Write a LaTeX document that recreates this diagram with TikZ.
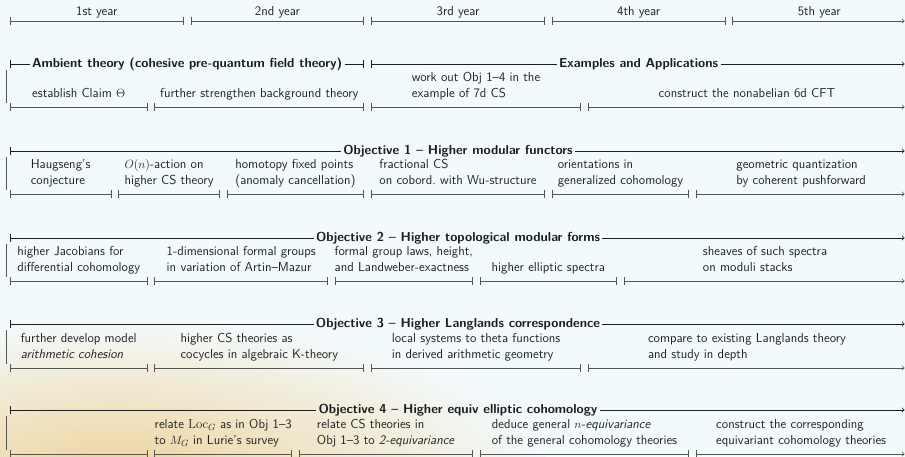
\documentclass[tikz,border=0pt]{standalone}
\usepackage{amsmath,amssymb}
\usepackage{fontspec}
\usepackage{tikz}
\usetikzlibrary{positioning}

\definecolor{bgblue}{RGB}{243,250,252}
\definecolor{sunset}{RGB}{238,212,158}
\definecolor{linegray}{RGB}{85,85,85}
\definecolor{headline}{RGB}{30,30,30}
\definecolor{textgray}{RGB}{35,35,35}

\begin{document}
\begin{tikzpicture}[x=36.12pt, y=-1pt, line width=0.8pt,
  font=\sffamily\fontsize{13}{16}\selectfont,
  seg/.style={|-|, draw=linegray, shorten <=3.5pt, shorten >=3.5pt},
  lastseg/.style={|->, draw=linegray, shorten <=3.5pt, shorten >=5pt},
  task/.style={anchor=south, align=left, inner sep=0pt, text depth=3pt, text=textgray},
  year/.style={inner sep=0pt, text=textgray},
  head/.style={font=\sffamily\bfseries\fontsize{13}{16}\selectfont, inner sep=2pt,
    text height=9pt, text depth=3pt, text=headline},
  headrule/.style={draw=headline},
  sidebar/.style={draw=linegray, line width=1.5pt}]

% background
\useasboundingbox (-0.18,0) rectangle (24.875,456);
\fill[bgblue] (-0.18,0) rectangle (24.875,456);
\shade[inner color=sunset, outer color=bgblue] (3,470) ellipse (12 and 150);

% years
\node[year] (y1) at (2.5,12) {1st year};
\node[year] (y2) at (7.5,12) {2nd year};
\node[year] (y3) at (12.5,12) {3rd year};
\node[year] (y4) at (17.5,12) {4th year};
\node[year] (y5) at (22.5,12) {5th year};
\draw[seg] (0,21) -- (5,21);
\draw[seg] (5,21) -- (10,21);
\draw[seg] (10,21) -- (15,21);
\draw[seg] (15,21) -- (20,21);
\draw[lastseg] (20,21) -- (25,21);

% ambient theory and examples
\coordinate (amb-s) at (0,64);
\coordinate (amb-e) at (10,64);
\coordinate (ex-s) at (10,64);
\coordinate (ex-e) at (25,64);
\node[head] (amb) at (5,64) {Ambient theory (cohesive pre-quantum field theory)};
\node[head] (ex) at (17.5,64) {Examples and Applications};
\draw[headrule, |-, shorten <=3.5pt] (amb-s) -- (amb);
\draw[headrule, -|, shorten >=3.5pt] (amb) -- (amb-e);
\draw[headrule, |-, shorten <=3.5pt] (ex-s) -- (ex);
\draw[headrule, ->, shorten >=5pt] (ex) -- (ex-e);
\draw[sidebar] (0,70) -- (0,103);
\node[task] (claim) at (2,101) {establish Claim $\Theta$};
\node[task] (backgr) at (7,101) {further strengthen background theory};
\node[task] (sevend) at (13,101) {work out Obj 1--4 in the\\example of 7d CS};
\node[task] (sixd) at (20.5,101) {construct the nonabelian 6d CFT};
\draw[seg] (0,107) -- (4,107);
\draw[seg] (4,107) -- (10,107);
\draw[seg] (10,107) -- (16,107);
\draw[lastseg] (16,107) -- (25,107);

% objective 1
\coordinate (obja-s) at (0,151);
\coordinate (obja-e) at (25,151);
\node[head] (obja) at (12.5,151) {Objective 1 -- Higher modular functors};
\draw[headrule, |-, shorten <=3.5pt] (obja-s) -- (obja);
\draw[headrule, ->, shorten >=5pt] (obja) -- (obja-e);
\draw[sidebar] (0,157) -- (0,190);
\node[task] (haug) at (1.5,188) {Haugseng's\\conjecture};
\node[task] (onact) at (4.5,188) {$O(n)$-action on\\higher CS theory};
\node[task] (fixpt) at (8,188) {homotopy fixed points\\(anomaly cancellation)};
\node[task] (fraccs) at (12.5,188) {fractional CS\\on cobord.\ with Wu-structure};
\node[task] (orient) at (17,188) {orientations in\\generalized cohomology};
\node[task] (geoq) at (22,188) {geometric quantization\\by coherent pushforward};
\draw[seg] (0,194) -- (3,194);
\draw[seg] (3,194) -- (6,194);
\draw[seg] (6,194) -- (10,194);
\draw[seg] (10,194) -- (15,194);
\draw[seg] (15,194) -- (19,194);
\draw[lastseg] (19,194) -- (25,194);

% objective 2
\coordinate (objb-s) at (0,238);
\coordinate (objb-e) at (25,238);
\node[head] (objb) at (12.5,238) {Objective 2 -- Higher topological modular forms};
\draw[headrule, |-, shorten <=3.5pt] (objb-s) -- (objb);
\draw[headrule, ->, shorten >=5pt] (objb) -- (objb-e);
\draw[sidebar] (0,244) -- (0,277);
\node[task] (jacob) at (2,275) {higher Jacobians for\\differential cohomology};
\node[task] (formal) at (6.5,275) {1-dimensional formal groups\\in variation of Artin--Mazur};
\node[task] (fgl) at (11,275) {formal group laws, height,\\and Landweber-exactness};
\node[task] (ellsp) at (15,275) {higher elliptic spectra};
\node[task] (sheaf) at (21,275) {sheaves of such spectra\\on moduli stacks};
\draw[seg] (0,281) -- (4,281);
\draw[seg] (4,281) -- (9,281);
\draw[seg] (9,281) -- (13,281);
\draw[seg] (13,281) -- (17,281);
\draw[lastseg] (17,281) -- (25,281);

% objective 3
\coordinate (objc-s) at (0,324);
\coordinate (objc-e) at (25,324);
\node[head] (objc) at (12.5,324) {Objective 3 -- Higher Langlands correspondence};
\draw[headrule, |-, shorten <=3.5pt] (objc-s) -- (objc);
\draw[headrule, ->, shorten >=5pt] (objc) -- (objc-e);
\draw[sidebar] (0,330) -- (0,364);
\node[task] (arith) at (2,362) {further develop model\\\emph{arithmetic cohesion}};
\node[task] (ktheo) at (7,362) {higher CS theories as\\cocycles in algebraic K-theory};
\node[task] (theta) at (13,362) {local systems to theta functions\\in derived arithmetic geometry};
\node[task] (langl) at (20.5,362) {compare to existing Langlands theory\\and study in depth};
\draw[seg] (0,368) -- (4,368);
\draw[seg] (4,368) -- (10,368);
\draw[seg] (10,368) -- (16,368);
\draw[lastseg] (16,368) -- (25,368);

% objective 4
\coordinate (objd-s) at (0,410);
\coordinate (objd-e) at (25,410);
\node[head] (objd) at (12.5,410) {Objective 4 -- Higher equiv elliptic cohomology};
\draw[headrule, |-, shorten <=3.5pt] (objd-s) -- (objd);
\draw[headrule, ->, shorten >=5pt] (objd) -- (objd-e);
\draw[sidebar] (0,416) -- (0,450);
\node[task] (locg) at (6,448) {relate $\mathrm{Loc}_G$ as in Obj 1--3\\to $M_G$ in Lurie's survey};
\node[task] (twoeq) at (10.5,448) {relate CS theories in\\Obj 1--3 to \emph{2-equivariance}};
\node[task] (neq) at (16,448) {deduce general $n$-\emph{equivariance}\\of the general cohomology theories};
\node[task] (eqcoh) at (22,448) {construct the corresponding\\equivariant cohomology theories};
\draw[seg] (0,454) -- (4,454);
\draw[seg] (4,454) -- (8,454);
\draw[seg] (8,454) -- (13,454);
\draw[seg] (13,454) -- (19,454);
\draw[lastseg] (19,454) -- (25,454);
\end{tikzpicture}
\end{document}
